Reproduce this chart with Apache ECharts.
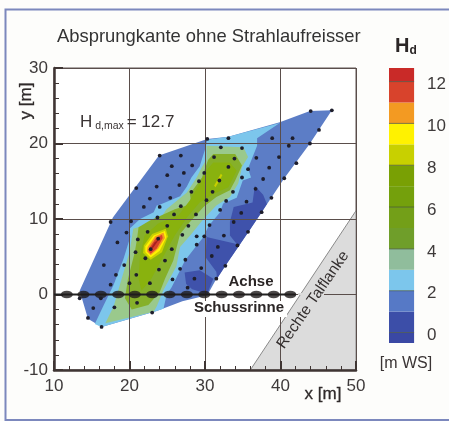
<!DOCTYPE html>
<html><head><meta charset="utf-8">
<style>html,body{margin:0;padding:0;background:#fdfdfb}#c{width:449px;height:421px}</style>
<script src="https://cdn.jsdelivr.net/npm/echarts@6/dist/echarts.min.js"></script>
</head><body><div id="c"></div>
<script>
// ---- data (x [m], y [m]) ----
const xTicks = [10, 20, 30, 40, 50];
const yTicks = [-10, 0, 10, 20, 30];
const legendTicks = [0, 2, 4, 6, 8, 10, 12];
const legendLevels = [-0.5, 0, 1, 2, 3, 4, 5, 6, 7, 8, 9, 10, 11, 12, 12.65];
const legendColors = ['#3a48a4', '#3c4ea8', '#5679c6', '#7cc6ec', '#90bd9c', '#6f9e2a', '#739f18', '#74a00c', '#79a004', '#c8d000', '#fff200', '#f39a22', '#d8432c', '#c92a28'];

const valley = [[36, -10], [50, 11.1], [50, -10]];
const hOuter = [[16.3, -4.3], [14.5, -3.2], [13.4, 0.5], [17.8, 10.2], [23.9, 18.4], [30.3, 20.6], [33.1, 20.9], [39.9, 22.8], [43.9, 24.3], [46.8, 24.4], [43.9, 20], [40.5, 15.4], [37.5, 10.9], [35.7, 8.2], [32.7, 3.8], [31.4, 1.9], [30.3, -0.1], [27, -0.9], [23.6, -2.2]];
const hLow1 = [[36.6, 14.4], [36.3, 12.2], [33.8, 11.6], [33.3, 9.6], [33.3, 7.8], [34.2, 6.7], [30.2, 7.6], [30.1, 4.9], [31.5, 3], [31.6, 2.1], [32.7, 3.8], [35.7, 8.2], [37.5, 10.9], [38.2, 12], [37.7, 13.2]];
const hLow2 = [[27.3, 2.9], [29.3, 3.2], [31.1, 2.1], [30.3, 0.1], [28.3, 0.7], [27.5, 1.4]];
const h2 = [[15.4, -3.9], [16.5, -1.6], [17.9, 1.3], [19.2, 4.7], [20.1, 7.6], [20, 8.7], [21.4, 10], [23.2, 10.9], [23.6, 11.8], [24, 11.9], [26.7, 13], [27.6, 14.3], [28.2, 15.5], [29.3, 17], [30, 19.2], [30.3, 20.5], [33.1, 20.9], [39.9, 22.7], [36.9, 20.7], [36.9, 19.7], [35.7, 16.7], [36.1, 15.5], [35, 15.1], [34.2, 12.8], [32.4, 12.05], [32, 10.9], [30.5, 9.1], [29.7, 7.5], [28.9, 6.5], [27.35, 4.5], [25.6, 1], [24.9, -0.1], [24.5, -1.9], [23.6, -2.2], [16.3, -4.3]];
const h3 = [[16.8, -3.8], [17.9, -1.6], [18.7, 1.2], [20, 5.6], [20.5, 8.7], [21.8, 9.1], [24, 9.9], [24.9, 11.3], [27.6, 13.5], [28.9, 15.5], [29.6, 16.9], [30.2, 17.9], [30.2, 19.7], [35.1, 19.5], [35.7, 18.2], [34.9, 16.9], [34.4, 14.7], [33.3, 12.9], [31.5, 11.8], [29.8, 10], [28.2, 8], [26.7, 6.3], [26.2, 3.7], [24.5, 0.6], [23.6, -1.6], [23.2, -2.3]];
const h4 = [[31.1, 18.6], [34, 18.6], [34.9, 17.1], [34, 15.1], [33.3, 13.8], [31.5, 12.9], [29.8, 11.6], [28, 9.6], [26.7, 8], [25.8, 4.5], [24.7, 2.1], [24, 0.3], [22.5, -1.4], [20.3, -2], [19.4, -0.5], [19.8, 2.1], [20.7, 5.6], [21, 7.4], [21.2, 8.9], [22.7, 9.8], [24.7, 10.7], [26, 11.3], [28.2, 12], [28, 13.3], [29.6, 15.5], [30.4, 17.8]];
const h6 = [[31.1, 17.5], [33.3, 17.5], [34.2, 16.4], [33.1, 14.2], [31.1, 13.3], [29.3, 12.2], [27.6, 10.2], [26, 7.8], [24.3, 4.7], [22.9, 2.1], [21.6, 0.5], [21.2, 2.1], [21.4, 5.2], [22, 7.8], [23.8, 9.4], [26.5, 10.5], [28, 12.5], [29.3, 14.7], [30.4, 16.7]];
const h8Top = [[32.1, 16], [32.3, 15.8], [31.4, 14.2], [31.2, 14.4]];
const h8 = [[24.8, 8.7], [25.1, 7.7], [24.3, 5.6], [22.8, 4.6], [21.8, 5.5], [21.9, 6.5], [23, 8]];
const h9 = [[24.7, 8.4], [24.9, 7.6], [24, 5.8], [22.8, 4.9], [22.1, 5.6], [22.1, 6.4], [23.2, 7.8]];
const h10 = [[24.5, 8.2], [24.7, 7.5], [23.8, 6.05], [22.8, 5.2], [22.3, 5.7], [22.4, 6.3], [23.4, 7.7]];
const h11 = [[24.3, 7.9], [24.4, 7.5], [23.6, 6.1], [22.8, 5.4], [22.5, 5.8], [22.7, 6.3], [23.5, 7.5]];
const h12 = [[23.9, 7.4], [23.7, 7], [23, 6], [22.8, 6.1], [23.3, 6.9]];

const measurePoints = [
[30.3,20.6],[33.1,20.7],[32.1,19.5],[24,18.4],[26.8,18.4],[31.2,18.2],[25.6,17],[28.3,17.1],[33.1,16.9],[25,15.8],[27.2,16.1],[29.2,15],[31.9,15.1],[20.9,14.1],[23.6,14.3],[26.6,14.5],[28.2,13.6],[31,13.6],[22.7,12.7],[25.4,12.8],[21.9,11.6],[24,11.6],[26.8,11.7],[30.2,12.5],[32.8,12.4],[32,11.2],[25.9,10.6],[28.8,10.6],[17.5,9.6],[20.2,9.7],[23.7,10.2],[25,9.1],[27.8,9.1],[30.6,9.2],[19.6,8.2],[22.4,8.3],[27,7.9],[28.9,7.7],[32.5,7.8],
[44,24.3],[46.8,24.4],[45.1,21.8],[41.6,20.7],[38.9,20.7],[43.9,20],[41.1,19.7],[34.9,19.4],[39.8,18.2],[36.8,18.1],[33.9,18],[42.1,17.4],[38.5,16.8],[35.7,16.6],[34.9,15.5],[37.7,15.3],[40.5,15.4],[36.7,14],[33.7,13.6],[38.8,12.8],[35.5,12.3],[37.5,10.9],[34.8,10.8],[33.8,9.6],[35.7,8.3],[34.3,6.5],[31.7,6.3],[30.9,5.1],[32.7,3.8],[29.9,16.1],[29.9,7.7],[29.5,3.5],[27.4,4.6],[28.6,2.1],
[20.8,5.6],[22.1,4.8],[24.7,4.5],[16.6,3.9],[19.3,3.9],[26.7,3.4],[31.5,2.1],[18.2,2.6],[20.9,2.6],[23.9,3.3],[17.5,1.3],[20,1.5],[22.7,1.5],[25.7,2],[27.7,.9],[16.2,-.5],[13.4,-.5],[15.2,-1.8],[18,-1.7],[21,-1.1],[14.5,-3.1],[16.3,-4.3],[23,-2.4],
[18.4,6.9],[21.1,7.3],[22.8,6],[23.8,7.4],[25.6,6],[28.9,6.6]
];
const axisX = [11.7, 13.9, 16.2, 18.5, 20.7, 23, 25.3, 27.6, 29.9, 32.2, 34.5, 36.8, 39.1, 41.3];
const axisLineX = [10, 42];

// ---- drawing ----
const bands = [
  [hOuter, '#5c7dc6'], [hLow1, '#3f52ab'], [hLow2, '#3f52ab'], [h2, '#7cc6ec'], [h3, '#9ac98c'],
  [h4, '#86b02a'], [h6, '#89b20e'], [h8Top, '#c8d000'], [h8, '#c8d000'], [h9, '#fff200'],
  [h10, '#f39a22'], [h11, '#d8432c'], [h12, '#a82020']
];
const font = '"Liberation Sans", Arial, sans-serif';
const ink = '#3e3a3a', rule = '#5a4e4b';
const chart = echarts.init(document.getElementById('c'));
function polygonSeries(items, z) {
  return {
    type: 'custom', xAxisIndex: 0, yAxisIndex: 0, z: z, silent: true,
    data: items.map((b, i) => [i]),
    encode: {x: [], y: []},
    renderItem: (p, api) => ({
      type: 'polygon',
      shape: {points: items[p.dataIndex][0].map(q => api.coord(q))},
      style: {fill: items[p.dataIndex][1], stroke: items[p.dataIndex][2] || null, lineWidth: 1}
    })
  };
}
chart.setOption({
  animation: false,
  backgroundColor: '#fdfdfb',
  textStyle: {fontFamily: font},
  grid: [
    {left: 54, right: 93, top: 68, bottom: 51, show: true, borderColor: '#5f5553', borderWidth: 1, backgroundColor: '#ffffff'},
    {left: 389, width: 26, top: 68, height: 275}
  ],
  xAxis: [
    {type: 'value', gridIndex: 0, min: xTicks[0], max: xTicks[xTicks.length - 1], interval: 10, z: 5,
     axisLine: {onZero: false, lineStyle: {color: '#3f3533', width: 2.5}},
     axisTick: {inside: true, length: 9, lineStyle: {color: '#3f3533', width: 2}},
     minorTick: {show: true, splitNumber: 5, length: 4, lineStyle: {color: '#3f3533', width: 1}},
     splitLine: {show: true, lineStyle: {color: rule, width: 1}},
     axisLabel: {color: ink, fontSize: 17, margin: 8, fontFamily: font}},
    {type: 'value', gridIndex: 1, min: 0, max: 1, show: false}
  ],
  yAxis: [
    {type: 'value', gridIndex: 0, min: yTicks[0], max: yTicks[yTicks.length - 1], interval: 10, z: 5,
     axisLine: {onZero: false, lineStyle: {color: '#3f3533', width: 2.5}},
     axisTick: {inside: true, length: 9, lineStyle: {color: '#3f3533', width: 2}},
     minorTick: {show: true, splitNumber: 5, length: 5, lineStyle: {color: '#3f3533', width: 1}},
     splitLine: {show: true, lineStyle: {color: rule, width: 1}},
     axisLabel: {color: ink, fontSize: 17, margin: 6, fontFamily: font}},
    {type: 'value', gridIndex: 1, min: legendLevels[0], max: legendLevels[legendLevels.length - 1], position: 'right',
     axisLine: {show: false}, axisTick: {show: false}, splitLine: {show: false},
     axisLabel: {customValues: legendTicks, color: ink, fontSize: 17, margin: 13, verticalAlign: 'top', lineHeight: 6, fontFamily: font}}
  ],
  series: [
    polygonSeries([[valley, '#dcdcdc', '#8a8a8a']], 1),
    polygonSeries(bands, 2),
    {type: 'custom', xAxisIndex: 1, yAxisIndex: 1, z: 3, silent: true,
     data: legendColors.map((c, i) => [i]),
     encode: {x: [], y: []},
     renderItem: (p, api) => {
       const i = p.dataIndex;
       const a = api.coord([0, legendLevels[i]]), b = api.coord([1, legendLevels[i + 1]]);
       return {type: 'rect', shape: {x: a[0], y: b[1], width: b[0] - a[0], height: a[1] - b[1]},
               style: {fill: legendColors[i], stroke: null}};
     }},
    {type: 'custom', xAxisIndex: 1, yAxisIndex: 1, z: 4, silent: true,
     data: legendTicks.map((t, i) => [i]),
     encode: {x: [], y: []},
     renderItem: (p, api) => {
       const a = api.coord([0, legendTicks[p.dataIndex]]), b = api.coord([1, legendTicks[p.dataIndex]]);
       return {type: 'line', shape: {x1: a[0], y1: a[1], x2: b[0], y2: b[1]},
               style: {stroke: '#3d4a35', lineWidth: 1, opacity: 0.65}};
     }},
    {type: 'line', xAxisIndex: 0, yAxisIndex: 0, z: 6, silent: true, symbol: 'none',
     data: axisLineX.map(x => [x, 0]), lineStyle: {color: '#222', width: 2}},
    {type: 'scatter', xAxisIndex: 0, yAxisIndex: 0, z: 7, silent: true, symbol: 'circle', symbolSize: [12, 7.5],
     data: axisX.map(x => [x, 0]), itemStyle: {color: '#1f1c1c'}},
    {type: 'scatter', xAxisIndex: 0, yAxisIndex: 0, z: 7, silent: true, symbol: 'circle', symbolSize: 3.8,
     data: measurePoints, itemStyle: {color: '#1e1e2c', opacity: 1}}
  ],
  graphic: [
    {type: 'rect', z: -1, silent: true, shape: {x: 5.5, y: 9.5, width: 460, height: 410.5},
     style: {fill: null, stroke: '#7c88bd', lineWidth: 2}},
    {type: 'text', x: 57, y: 37, z: 20, style: {text: 'Absprungkante ohne Strahlaufreisser', font: '18.4px ' + font, fill: '#333', verticalAlign: 'middle'}},
    {type: 'text', x: 395, y: 46, z: 20, style: {text: '{h|H}{d|d}', fill: '#2b2626', verticalAlign: 'middle',
      rich: {h: {font: 'bold 20px ' + font, fill: '#2b2626'}, d: {font: 'bold 12px ' + font, fill: '#2b2626', padding: [10, 0, 0, 0]}}}},
    {type: 'text', x: 80, y: 122, z: 20, style: {text: '{h|H}{d| d,max }{h|= 12.7}', verticalAlign: 'middle',
      rich: {h: {font: '17px ' + font, fill: '#3a3434'}, d: {font: '10.5px ' + font, fill: '#3a3434', padding: [8, 0, 0, 0]}}}},
    {type: 'text', x: 26, y: 101, rotation: Math.PI / 2, z: 20, style: {text: 'y [m]', font: '17px ' + font, fill: '#2f2a2a', align: 'center', verticalAlign: 'middle', stroke: '#2f2a2a', lineWidth: 0.3}},
    {type: 'text', x: 323, y: 394, z: 20, style: {text: 'x [m]', font: '17px ' + font, fill: '#2f2a2a', align: 'center', verticalAlign: 'middle', stroke: '#2f2a2a', lineWidth: 0.3}},
    {type: 'text', x: 406, y: 364, z: 20, style: {text: '[m WS]', font: '16px ' + font, fill: '#3a3434', align: 'center', verticalAlign: 'middle'}},
    {type: 'text', x: 251, y: 282, z: 20, style: {text: 'Achse', font: 'bold 15px ' + font, fill: '#2b2626', align: 'center', verticalAlign: 'middle'}},
    {type: 'rect', z: 19, silent: true, shape: {x: 192, y: 301, width: 95, height: 16}, style: {fill: '#ffffff'}},
    {type: 'text', x: 239, y: 308, z: 20, style: {text: 'Schussrinne', font: 'bold 15px ' + font, fill: '#2b2626', align: 'center', verticalAlign: 'middle'}},
    {type: 'rect', z: 19, silent: true, shape: {x: 298, y: 293, width: 26, height: 2}, style: {fill: '#dcdcdc'}},
    {type: 'text', x: 313, y: 300, rotation: 55.4 * Math.PI / 180, z: 20, style: {text: 'Rechte Talflanke', font: '15.5px ' + font, fill: '#332e2e', align: 'center', verticalAlign: 'middle'}}
  ]
});
</script></body></html>
